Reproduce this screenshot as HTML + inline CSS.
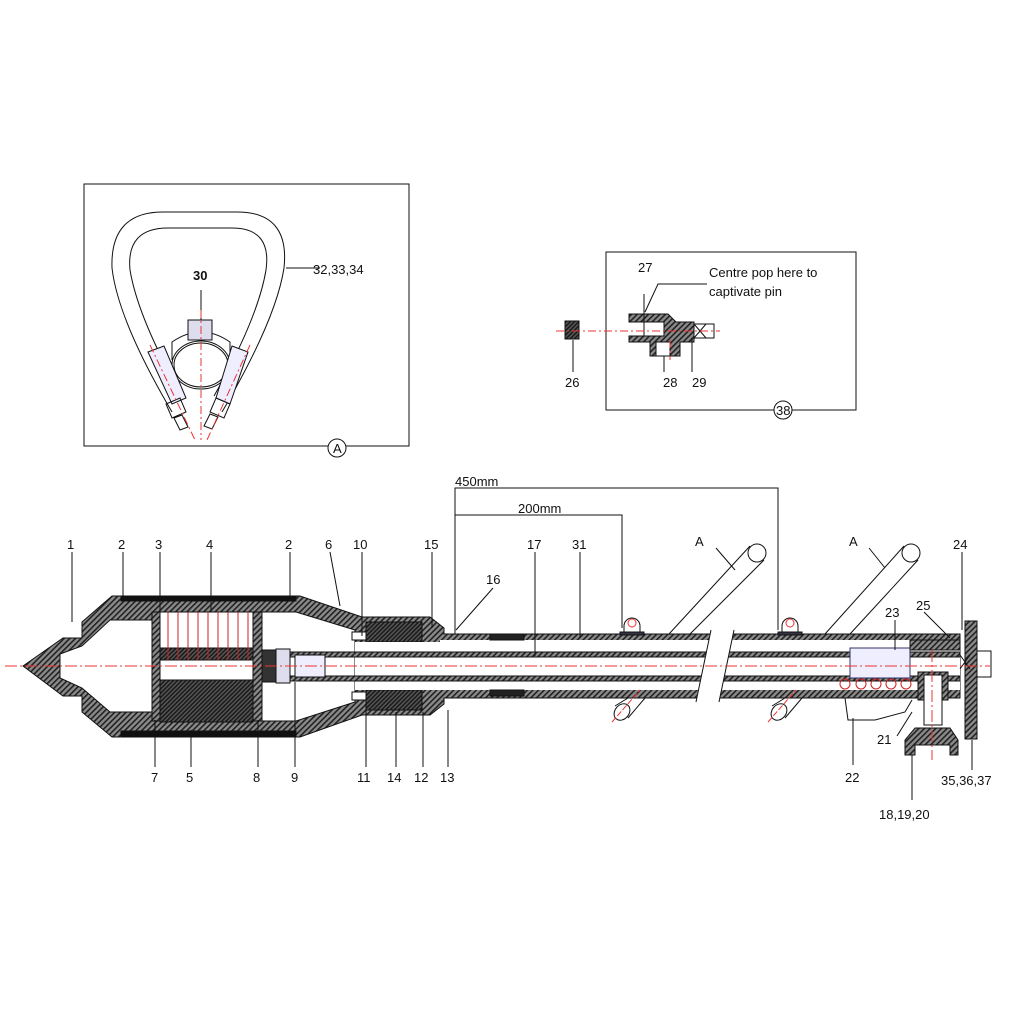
<!DOCTYPE html>
<html><head><meta charset="utf-8"><style>
html,body{margin:0;padding:0;background:#fff}
svg{display:block}
text{font-family:"Liberation Sans",sans-serif;font-size:13px;fill:#111}
</style></head><body>
<svg width="1012" height="1012" viewBox="0 0 1012 1012" xmlns="http://www.w3.org/2000/svg">
<defs>
<pattern id="h" width="4" height="4" patternUnits="userSpaceOnUse" patternTransform="rotate(45)">
<rect width="4" height="4" fill="#8a8a8a"/><rect width="1.6" height="4" fill="#222"/></pattern>
<pattern id="d" width="3" height="3" patternUnits="userSpaceOnUse" patternTransform="rotate(45)">
<rect width="3" height="3" fill="#555"/><rect width="1.5" height="3" fill="#1a1a1a"/></pattern>
</defs>
<g stroke="#111" stroke-width="1" fill="none">
<!-- Inset A -->
<rect x="84" y="184" width="325" height="262"/>
<circle cx="337" cy="448" r="9" fill="#fff"/>
<path d="M163,212 H237 Q290,212 284,268 Q276,320 222,412 M163,212 Q110,212 112,268 Q118,320 172,412"/>
<path d="M168,228 H232 Q272,228 266,270 Q258,318 214,396 M168,228 Q126,228 130,270 Q138,318 182,396"/>
<ellipse cx="201" cy="365" rx="29" ry="24"/><ellipse cx="201" cy="365" rx="27" ry="22"/>
<path d="M172,360 V342 Q201,322 230,342 V360"/>
<rect x="188" y="320" width="24" height="20" fill="#dde"/>
<path d="M148,352 L164,346 L186,398 L172,404 Z M232,346 L248,352 L230,404 L216,398 Z" fill="#eef"/>
<path d="M166,404 l14,-6 6,14 -14,6z M174,418 l8,-3 6,12 -8,3z M216,398 l14,6 -6,14 -14,-6z M210,414 l8,3 -6,12 -8,-3z"/>
<path d="M201,320 V290" />
<path d="M286,268 H320"/>
<path d="M201,310 V440 M150,345 L195,440 M250,345 L207,440" stroke="#e33" stroke-dasharray="8,3,2,3"/>
<!-- Inset 38 -->
<rect x="606" y="252" width="250" height="158"/>
<circle cx="783" cy="410" r="9" fill="#fff"/>
<path d="M629,314 H668 L676,322 H694 V342 H680 V356 H650 V342 H629 V336 H644 V322 H629Z" fill="url(#h)"/>
<rect x="644" y="322" width="20" height="14" fill="#fff"/>
<rect x="656" y="342" width="14" height="14" fill="#fff"/>
<rect x="694" y="324" width="20" height="14" fill="#fff"/>
<path d="M694,324 l12,14 M706,324 l-12,14"/>
<rect x="565" y="321" width="14" height="18" fill="url(#d)"/>
<path d="M645,312 L658,284 H707 M573,340 V372 M664,356 V372 M692,338 V372 M644,336 V294"/>
<path d="M556,331 H720 M670,340 V360" stroke="#e33" stroke-dasharray="8,3,2,3"/>
<!-- dimensions -->
<path d="M455,640 V488 H778 V630 M455,515 H622 V628"/>
<!-- main body -->
<path d="M23,666 L63,638 H82 V622 L112,596 H300 L362,617 H430 L444,628 V634 H960 V698 H444 V704 L430,715 H362 L300,737 H112 L82,712 V696 H63 Z" fill="url(#h)"/>
<path d="M60,654 L82,646 L110,620 H152 V712 H110 L82,688 L60,678 Z M262,612 H296 L355,630 V702 L296,721 H262 Z" fill="#fff"/>
<rect x="121" y="596" width="175" height="5" fill="#111"/><rect x="121" y="731" width="175" height="5" fill="#111"/>
<rect x="152" y="612" width="110" height="109" fill="#fff"/>
<rect x="152" y="612" width="8" height="109" fill="url(#h)"/>
<rect x="253" y="612" width="9" height="109" fill="url(#h)"/>
<rect x="160" y="648" width="93" height="12" fill="url(#d)"/>
<rect x="160" y="680" width="93" height="42" fill="url(#d)"/>
<g stroke="#c22">
<path d="M168,612V660M178,612V660M188,612V660M198,612V660M208,612V660M218,612V660M228,612V660M238,612V660M248,612V660"/></g>
<!-- collar -->
<rect x="366" y="622" width="56" height="20" fill="url(#d)"/>
<rect x="366" y="690" width="56" height="20" fill="url(#d)"/>
<rect x="352" y="632" width="14" height="8" fill="#fff"/><rect x="352" y="692" width="14" height="8" fill="#fff"/>
<!-- tubes -->
<rect x="440" y="640" width="520" height="50" fill="#fff" stroke="none"/>
<rect x="355" y="642" width="90" height="48" fill="#fff" stroke="none"/>
<rect x="262" y="652" width="698" height="5" fill="url(#h)"/>
<rect x="262" y="676" width="698" height="5" fill="url(#h)"/>
<rect x="262" y="650" width="14" height="32" fill="#333"/>
<rect x="276" y="649" width="14" height="34" fill="#dde"/>
<rect x="295" y="655" width="30" height="22" fill="#eef"/>
<rect x="490" y="634" width="34" height="6" fill="#222"/><rect x="490" y="690" width="34" height="6" fill="#222"/>
<!-- break -->
<polygon points="711,630 734,630 719,700 696,700" fill="#fff" stroke="none"/>
<path d="M711,630 L696,702 M734,630 L719,702"/>
<!-- saddles -->
<path d="M624,634 V626 A8,8 0 1,1 640,626 V634 M782,634 V626 A8,8 0 1,1 798,626 V634"/>
<circle cx="632" cy="623" r="4" stroke="#e33"/><circle cx="790" cy="623" r="4" stroke="#e33"/>
<rect x="620" y="632" width="24" height="3" fill="#334"/><rect x="778" y="632" width="24" height="3" fill="#334"/>
<!-- handles -->
<path d="M669,634 L750,546 M690,634 L764,560 M825,634 L904,546 M850,634 L918,560"/>
<circle cx="757" cy="553" r="9" fill="#fff"/><circle cx="911" cy="553" r="9" fill="#fff"/>
<path d="M615,706 L628,698 M628,718 L645,698 M772,706 L785,698 M785,718 L802,698"/>
<ellipse cx="622" cy="712" rx="7" ry="9" transform="rotate(40 622 712)" fill="#fff"/>
<ellipse cx="779" cy="712" rx="7" ry="9" transform="rotate(40 779 712)" fill="#fff"/>
<path d="M612,722 L640,690 M768,722 L796,690" stroke="#e33" stroke-dasharray="6,2"/>
<!-- right end -->
<rect x="850" y="648" width="60" height="30" fill="#eef" stroke="#336"/>
<rect x="910" y="640" width="50" height="10" fill="url(#h)"/>
<g stroke="#c22"><circle cx="845" cy="684" r="5"/><circle cx="861" cy="684" r="5"/><circle cx="876" cy="684" r="5"/><circle cx="891" cy="684" r="5"/><circle cx="906" cy="684" r="5"/></g>
<path d="M845,698 L848,720 H875 L905,712 L912,700"/>
<rect x="918" y="672" width="30" height="28" fill="url(#h)"/>
<rect x="924" y="675" width="18" height="50" fill="#fff"/>
<path d="M905,755 V740 L915,728 H950 L958,740 V755 H950 V745 H915 V755 Z" fill="url(#h)"/>
<rect x="965" y="621" width="12" height="118" fill="url(#h)"/>
<rect x="977" y="651" width="14" height="26" fill="#fff"/>
<path d="M960,655 l10,14 M970,655 l-10,14"/>
<!-- centerline -->
<path d="M5,666 H990 M932,650 V760" stroke="#e33" stroke-dasharray="12,3,2,3"/>
<!-- leaders -->
<path d="M72,552 V622 M123,552 V600 M160,552 V612 M211,552 V612 M290,552 V600 M330,552 L340,606 M362,552 V636 M432,552 V628 M535,552 V656 M580,552 V638 M962,552 V630 M493,588 L456,630 M716,548 L735,570 M869,548 L885,568 M895,620 V650 M924,612 L950,638
M155,767 V720 M191,767 V730 M258,767 V720 M295,767 V682 M366,767 V700 M396,767 V712 M423,767 V712 M448,767 V710 M853,765 V718 M897,736 L912,712 M972,770 V740 M912,800 V755"/>
</g>
<g>
<text x="313" y="274">32,33,34</text>
<text x="193" y="280" font-weight="bold">30</text>
<text x="333" y="453" font-size="12">A</text>
<text x="638" y="272">27</text>
<text x="709" y="277">Centre pop here to</text>
<text x="709" y="296">captivate pin</text>
<text x="565" y="387">26</text>
<text x="663" y="387">28</text>
<text x="692" y="387">29</text>
<text x="776" y="415" font-size="11">38</text>
<text x="455" y="486">450mm</text>
<text x="518" y="513">200mm</text>
<text x="67" y="549">1</text><text x="118" y="549">2</text><text x="155" y="549">3</text><text x="206" y="549">4</text><text x="285" y="549">2</text><text x="325" y="549">6</text><text x="353" y="549">10</text><text x="424" y="549">15</text><text x="527" y="549">17</text><text x="572" y="549">31</text><text x="953" y="549">24</text>
<text x="486" y="584">16</text><text x="695" y="546">A</text><text x="849" y="546">A</text><text x="885" y="617">23</text><text x="916" y="610">25</text>
<text x="151" y="782">7</text><text x="186" y="782">5</text><text x="253" y="782">8</text><text x="291" y="782">9</text><text x="357" y="782">11</text><text x="387" y="782">14</text><text x="414" y="782">12</text><text x="440" y="782">13</text>
<text x="845" y="782">22</text><text x="877" y="744">21</text><text x="941" y="785">35,36,37</text><text x="879" y="819">18,19,20</text>
</g>
</svg>
</body></html>
